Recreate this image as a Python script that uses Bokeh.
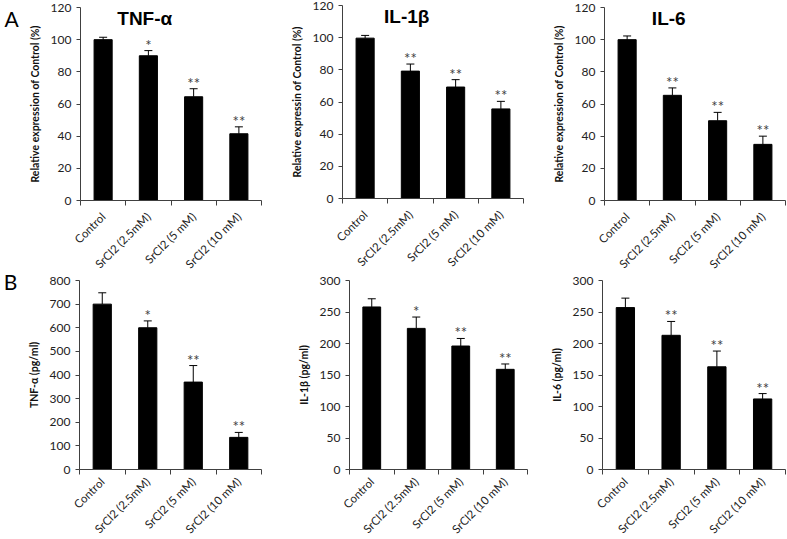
import math
import numpy as np
from bokeh.plotting import figure
from bokeh.layouts import gridplot
from bokeh.models import (Range1d, FixedTicker, CustomJSTickFormatter, Whisker,
                          TeeHead, ColumnDataSource, Label)
from bokeh.core.properties import value
from bokeh.embed import file_html
from bokeh.resources import INLINE

# ---------------- data ----------------
categories = ["Control", "SrCl2 (2.5mM)", "SrCl2 (5 mM)", "SrCl2 (10 mM)"]

a_tnf = [100, 90, 64.5, 41.5]
a_tnf_err = [1.5, 3.2, 5.0, 4.3]
a_tnf_sig = ["", "*", "**", "**"]

a_il1 = [99.7, 79.2, 69.3, 55.7]
a_il1_err = [1.7, 4.4, 4.6, 4.7]
a_il1_sig = ["", "**", "**", "**"]

a_il6 = [100, 65.4, 49.6, 34.9]
a_il6_err = [2.3, 4.6, 5.2, 5.1]
a_il6_sig = ["", "**", "**", "**"]

b_tnf = [700, 600, 370, 136]
b_tnf_err = [48, 29, 70, 21]
b_tnf_sig = ["", "*", "**", "**"]

b_il1 = [258, 224, 196, 159]
b_il1_err = [13, 18, 12, 8.5]
b_il1_sig = ["", "*", "**", "**"]

b_il6 = [257, 213, 163, 112]
b_il6_err = [15, 22, 25, 8.5]
b_il6_sig = ["", "**", "**", "**"]

ticks_pct = [0, 20, 40, 60, 80, 100, 120]
ticks_tnf = [0, 100, 200, 300, 400, 500, 600, 700, 800]
ticks_il = [0, 50, 100, 150, 200, 250, 300]

panel_letters = ["A", "B"]

FONT = "Lato"
AXC = "#404040"
FIG_H = 269


def panel(vals, errs, sigs, yticks, ylabel, fig_w, box, title=None,
          letter=None, letter_px=None, standoff=9):
    """box = (L, R, T, B): pixel positions (inside the figure) of the plot
    area: y axis at L, last category edge at R, top tick at T, zero at B."""
    L, R, T, B = box
    n = len(categories)
    ymin, ymax = yticks[0], yticks[-1]
    xs_per_px = n / (R - L)
    ys_per_px = (ymax - ymin) / (B - T)
    x0, x1 = -L * xs_per_px, n + (fig_w - R) * xs_per_px
    y0, y1 = ymin - (FIG_H - B) * ys_per_px, ymax + T * ys_per_px
    p = figure(width=fig_w, height=FIG_H, x_range=Range1d(x0, x1),
               y_range=Range1d(y0, y1),
               output_backend="svg", toolbar_location=None, tools="",
               min_border=0)
    p.outline_line_color = None
    p.xgrid.visible = False
    p.ygrid.visible = False
    p.background_fill_alpha = 0
    p.border_fill_alpha = 0

    xs = np.arange(n) + 0.5
    tops = np.array(vals) + np.array(errs)
    src = ColumnDataSource(dict(x=xs, v=vals, top=tops, sig=sigs))

    p.vbar(x="x", top="v", bottom=0, width=0.4, source=src,
           fill_color="black", line_color="black")
    w = Whisker(base="x", lower="v", upper="top", source=src,
                dimension="height", line_color="black", line_width=1,
                upper_head=TeeHead(size=8, line_color="black", line_width=1),
                lower_head=None)
    p.add_layout(w)
    p.text(x="x", y="top", text="sig", source=src, text_align="center",
           text_baseline="alphabetic", text_font=value(FONT),
           text_font_size="15px", text_color="#404040", y_offset=-6)

    # x axis: labels at centres, ticks at category boundaries, drawn at y=0
    xa = p.xaxis[0]
    xa.fixed_location = 0
    xa.bounds = (0, n)
    xa.ticker = FixedTicker(ticks=list(xs), minor_ticks=list(range(n + 1)))
    xa.formatter = CustomJSTickFormatter(args=dict(cats=categories),
                                         code="return cats[Math.floor(tick)];")
    xa.major_tick_in = 0
    xa.major_tick_out = 0
    xa.minor_tick_in = 0
    xa.minor_tick_out = 5
    xa.minor_tick_line_color = AXC
    xa.axis_line_color = AXC
    xa.major_label_orientation = math.pi / 4
    xa.major_label_text_font = FONT
    xa.major_label_text_font_size = "11.5px"
    xa.major_label_text_color = "#222222"
    xa.major_label_standoff = standoff

    ya = p.yaxis[0]
    ya.fixed_location = 0
    ya.bounds = (ymin, ymax)
    ya.ticker = FixedTicker(ticks=yticks, minor_ticks=[])
    ya.major_tick_in = 0
    ya.major_tick_out = 4
    ya.major_tick_line_color = AXC
    ya.axis_line_color = AXC
    ya.major_label_text_font = FONT
    ya.major_label_text_font_size = "12px"
    ya.major_label_text_color = "#222222"
    ya.major_label_standoff = 5
    ya.axis_label = ylabel
    ya.axis_label_text_font = FONT
    ya.axis_label_text_font_style = "bold"
    ya.axis_label_text_font_size = "10.5px"
    ya.axis_label_text_color = "#111111"
    ya.axis_label_standoff = 7

    if title:
        p.add_layout(Label(x=1.42, y=ymax * 0.942, text=title,
                           text_align="center", text_baseline="middle",
                           text_font="Liberation Sans", text_font_style="bold",
                           text_font_size="19px", text_color="black"))
    if letter:
        lx, ly = letter_px
        p.add_layout(Label(x=x0 + lx * xs_per_px, y=y1 - ly * ys_per_px,
                           text=letter, text_align="center",
                           text_baseline="middle", text_font=FONT,
                           text_font_size="21px", text_color="black"))
    return p


p1 = panel(a_tnf, a_tnf_err, a_tnf_sig, ticks_pct,
           "Relative expression of Control (%)", 262, (80, 261, 7, 200),
           title="TNF-α", letter=panel_letters[0], letter_px=(11, 18))
p2 = panel(a_il1, a_il1_err, a_il1_sig, ticks_pct,
           "Relative expressin of Control (%)", 266, (80, 261, 5, 198),
           title="IL-1β")
p3 = panel(a_il6, a_il6_err, a_il6_sig, ticks_pct,
           "Relative expression of Control (%)", 258, (76, 257, 7, 200),
           title="IL-6")
p4 = panel(b_tnf, b_tnf_err, b_tnf_sig, ticks_tnf, "TNF-α (pg/ml)",
           262, (79, 261, 11, 200), letter=panel_letters[1],
           letter_px=(10, 12), standoff=5)
p5 = panel(b_il1, b_il1_err, b_il1_sig, ticks_il, "IL-1β (pg/ml)",
           266, (87, 265, 11, 200), standoff=5)
p6 = panel(b_il6, b_il6_err, b_il6_sig, ticks_il, "IL-6 (pg/ml)",
           258, (74, 257, 11, 200), standoff=5)

grid = gridplot([[p1, p2, p3], [p4, p5, p6]], toolbar_location=None)

open("out.html", "w").write(file_html(grid, INLINE))
